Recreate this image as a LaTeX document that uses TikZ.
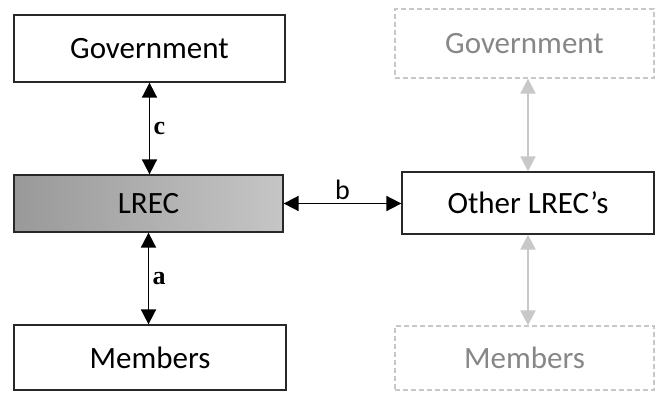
\documentclass[tikz,border=0pt]{standalone}
\usepackage{fontspec}
\setmainfont{Carlito}
\newfontfamily\lblfont{Liberation Serif}
\usetikzlibrary{arrows.meta, positioning, calc}
\definecolor{boxline}{RGB}{40, 40, 40}
\definecolor{fadeline}{RGB}{200, 200, 200}
\definecolor{fadetext}{RGB}{135, 135, 135}
\tikzset{
    unit/.style={rectangle, draw=boxline, line width=1.3pt, fill=white, text centered, font=\fontsize{31}{34}\selectfont},
    focus/.style={unit, left color=gray!80, right color=gray!45},
    ghost/.style={rectangle, draw=fadeline, dashed, dash pattern=on 5pt off 3pt, line width=1.2pt, text=fadetext, text centered, font=\fontsize{31}{34}\selectfont},
    link/.style={line width=1.8pt, {Triangle[length=15pt,width=15pt]}-{Triangle[length=15pt,width=15pt]}},
    fadelink/.style={link, draw=fadeline, {Triangle[length=15pt,width=15pt,fill=fadeline]}-{Triangle[length=15pt,width=15pt,fill=fadeline]}},
    tag/.style={font=\lblfont\bfseries\fontsize{26}{28}\selectfont}
}
\begin{document}
\begin{tikzpicture}[x=1pt, y=1pt]
    \useasboundingbox (0,0) rectangle (656,392);
    % left column
    \node (gov) [unit, minimum width=271pt, minimum height=67pt] at (149.5,343.5) {Government};
    \node (lrec) [focus, minimum width=269pt, minimum height=57pt] at (148.5,188.5) {LREC};
    \node (mem) [unit, minimum width=272pt, minimum height=65pt] at (150,34.5) {Members};
    % right column
    \node (ogov) [ghost, minimum width=259pt, minimum height=69pt] at (524.5,348.5) {Government};
    \node (other) [unit, minimum width=252pt, minimum height=62pt] at (528,189) {Other LREC’s};
    \node (omem) [ghost, minimum width=259pt, minimum height=64pt] at (524.5,34) {Members};

    \draw [link] (gov.south) -- node [tag, right] {c} (gov.south |- lrec.north);
    \draw [link] (lrec.south) -- node [tag, right] {a} (lrec.south |- mem.north);
    \draw [link] (lrec.east) -- node [tag, above, font=\fontsize{28}{30}\selectfont] {b} (lrec.east -| other.west);
    \draw [fadelink] (other.north) -- (other.north |- ogov.south);
    \draw [fadelink] (other.south) -- (other.south |- omem.north);
\end{tikzpicture}
\end{document}
